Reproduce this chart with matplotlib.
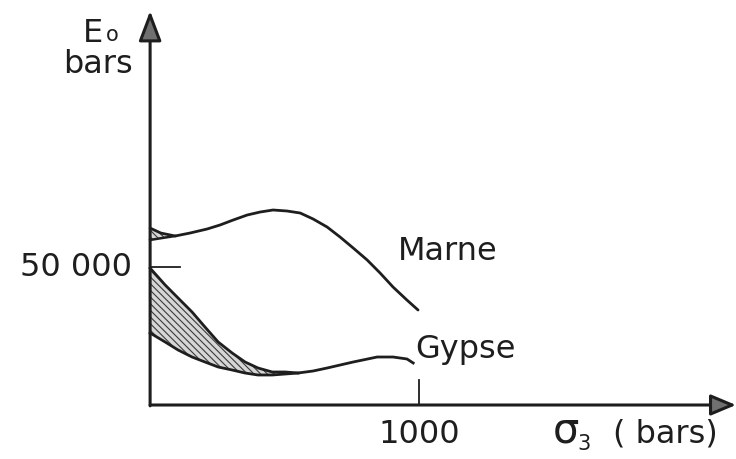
import matplotlib
matplotlib.use("Agg")
from matplotlib import pyplot as plt

# Marne (E0 in bars vs sigma3 in bars)
marne_x = [0, 40, 93, 149, 212, 260, 309, 361, 409, 457, 509, 558, 606, 658, 706, 755, 807,
           855, 903, 955, 996]
marne_y = [64100, 62300, 61230, 62320, 63770, 65220, 67030, 68840, 69920, 70650, 70290, 69560,
           67390, 64490, 60870, 56880, 52530, 47820, 42750, 38000, 34420]
marne_low_x = [0, 45, 93]
marne_low_y = [59800, 60500, 61230]

# Gypse: upper bound and lower bound (lower one continues to ~1000 bars)
gyp_up_x = [0, 56, 104, 156, 204, 253, 305, 353, 401, 454, 502, 550]
gyp_up_y = [49600, 43480, 38770, 33690, 28260, 22820, 18840, 15580, 13410, 11960, 11960, 11590]
gyp_low_x = [0, 56, 104, 156, 204, 253, 305, 353, 401, 454, 502, 550, 606, 658, 755, 844,
             903, 955, 978]
gyp_low_y = [26090, 22820, 19930, 17390, 15580, 13770, 12680, 11590, 10870, 10870, 11230,
             11590, 12320, 13400, 15580, 17390, 17390, 16670, 15220]

fig = plt.figure(figsize=(7.36, 4.59), dpi=100)
ax = fig.add_axes([0, 0, 1, 1])
ax.set_xlim(-558, 2178)
ax.set_ylim(-19565, 146740)
ax.axis("off")

ink = "#1e1e1e"
plt.rcParams["hatch.linewidth"] = 0.8
plt.rcParams["hatch.color"] = "#3a3a3a"

# axes with arrows
ax.annotate("", xy=(2178, 0), xytext=(0, 0),
            arrowprops=dict(arrowstyle="-|>,head_length=1.55,head_width=0.65", lw=2.2,
                            color=ink, fc="#707070", shrinkA=0, shrinkB=0))
ax.annotate("", xy=(0, 142800), xytext=(0, -300),
            arrowprops=dict(arrowstyle="-|>,head_length=1.85,head_width=0.7", lw=2.2,
                            color=ink, fc="#707070", shrinkA=0, shrinkB=0))
ax.plot([0, 111], [50000, 50000], color=ink, lw=1.3)
ax.plot([1000, 1000], [0, 9060], color=ink, lw=1.3)

# curves
ax.fill_between(gyp_up_x, gyp_up_y, gyp_low_y[:len(gyp_up_x)], facecolor="#d6d6d6",
                hatch="\\\\\\\\\\", edgecolor="#3a3a3a", lw=0)
ax.fill_between(marne_low_x, marne_y[:3], marne_low_y, facecolor="#d6d6d6",
                hatch="\\\\\\\\\\", edgecolor="#3a3a3a", lw=0)
ax.plot(marne_x, marne_y, color=ink, lw=2.0, solid_capstyle="round", solid_joinstyle="round")
ax.plot(marne_low_x, marne_low_y, color=ink, lw=1.8)
ax.plot(gyp_up_x, gyp_up_y, color=ink, lw=2.0, solid_joinstyle="round")
ax.plot(gyp_low_x, gyp_low_y, color=ink, lw=2.0, solid_joinstyle="round")

fs = 23
ax.text(-67, 50000, "50 000", fontsize=fs, ha="right", va="center", color=ink)
ax.text(1000, -13767, "1000", fontsize=fs, ha="center", va="baseline", color=ink)
ax.text(1495, -13767, "σ", fontsize=30, ha="left", va="baseline", color=ink)
ax.text(1590, -16300, "3", fontsize=15, ha="left", va="baseline", color=ink)
ax.text(1720, -13767, "( bars)", fontsize=fs, ha="left", va="baseline", color=ink)
ax.text(922, 52533, "Marne", fontsize=fs, ha="left", va="baseline", color=ink)
ax.text(985, 17030, "Gypse", fontsize=fs, ha="left", va="baseline", color=ink)
ax.text(-249, 131515, "E", fontsize=fs, ha="left", va="baseline", color=ink)
ax.text(-165, 131877, "o", fontsize=15, ha="left", va="baseline", color=ink)
ax.text(-323, 120284, "bars", fontsize=fs, ha="left", va="baseline", color=ink)

fig.savefig("out.png", dpi=100)
